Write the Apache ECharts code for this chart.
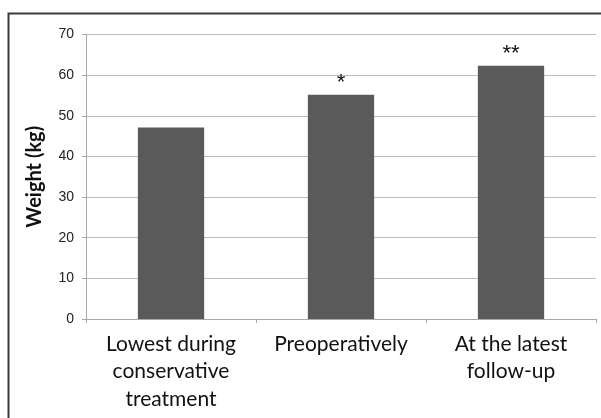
<!DOCTYPE html>
<html><head><meta charset="utf-8">
<script src="https://cdn.jsdelivr.net/npm/echarts@6/dist/echarts.min.js"></script>
<style>html,body{margin:0;padding:0;background:#fff}#c{width:601px;height:418px}</style>
</head><body><div id="c"></div>
<script>
var categories = ['Lowest during\nconservative\ntreatment', 'Preoperatively', 'At the latest\nfollow-up'];
var weights = [47.1, 55.2, 62.3];
var marks = ['', '*', '**'];
var yTicks = {min: 0, max: 70, interval: 10};

var chart = echarts.init(document.getElementById('c'), null, {renderer: 'canvas'});
chart.setOption({
  animation: false,
  backgroundColor: '#fff',
  graphic: [{
    type: 'rect', left: 6, top: 11, z: 100,
    shape: {x: 0, y: 0, width: 700, height: 500},
    style: {fill: 'none', stroke: '#3a3a3a', lineWidth: 2}
  }],
  grid: {left: 86, right: 5, top: 34.5, bottom: 99, containLabel: false},
  xAxis: {
    type: 'category',
    data: categories,
    axisLine: {lineStyle: {color: '#a8a8a8', width: 1}},
    axisTick: {show: true, length: 4, lineStyle: {color: '#a8a8a8'}},
    axisLabel: {interval: 0, hideOverlap: false, color: '#111', fontFamily: 'Lato', fontSize: 21, lineHeight: 27.7, margin: 11}
  },
  yAxis: {
    type: 'value',
    min: yTicks.min, max: yTicks.max, interval: yTicks.interval,
    name: 'Weight (kg)',
    nameLocation: 'middle',
    nameGap: 41,
    nameTextStyle: {color: '#111', fontFamily: 'Lato', fontSize: 20, fontWeight: 'bold'},
    axisLine: {show: true, lineStyle: {color: '#a8a8a8', width: 1}},
    axisTick: {show: true, length: 4, lineStyle: {color: '#a8a8a8'}},
    axisLabel: {color: '#222', fontFamily: 'Liberation Sans', fontSize: 14, margin: 12},
    splitLine: {lineStyle: {color: '#bdbdbd', width: 1}}
  },
  series: [{
    type: 'bar',
    data: weights,
    barWidth: '39%',
    itemStyle: {color: '#5a5a5a'},
    label: {
      show: true, position: 'top', distance: 1,
      formatter: function (p) { return marks[p.dataIndex]; },
      color: '#111', fontFamily: 'Liberation Sans', fontSize: 22
    }
  }]
});
</script></body></html>
